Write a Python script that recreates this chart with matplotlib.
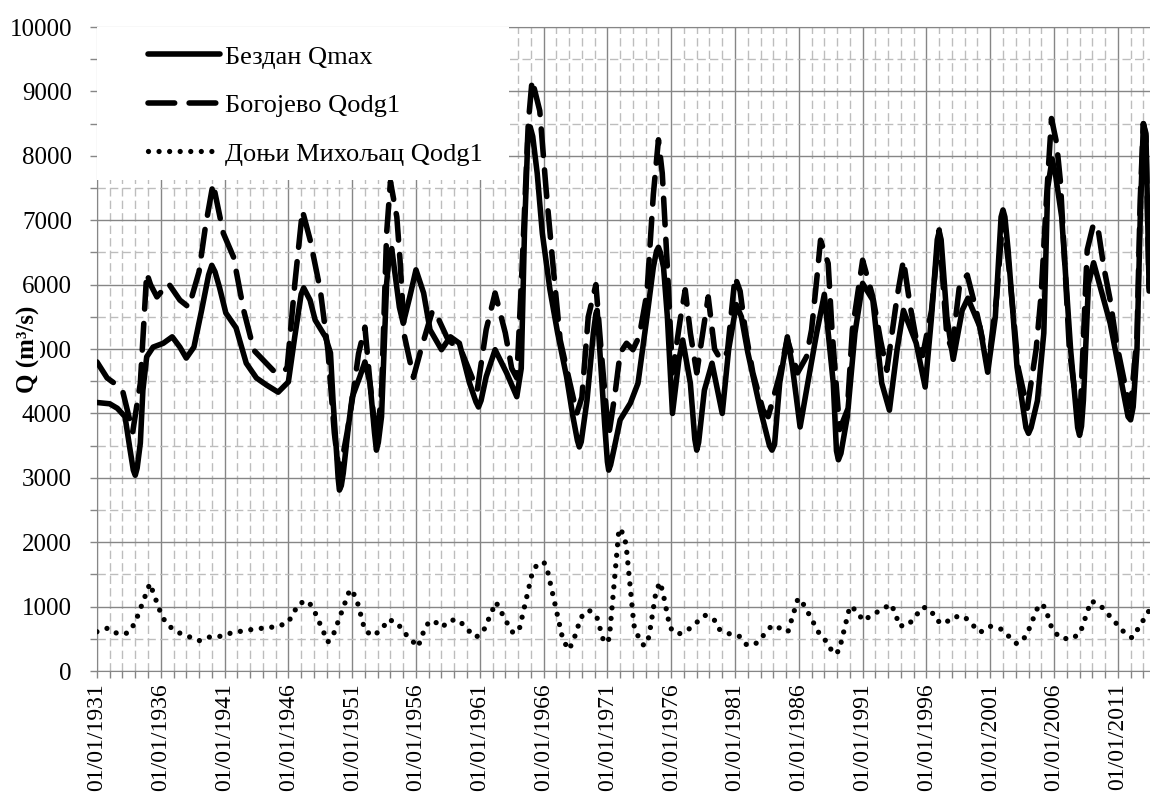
import numpy as np
import matplotlib.pyplot as plt
from matplotlib.ticker import MultipleLocator, FixedLocator, FuncFormatter
from matplotlib.patches import Rectangle

plt.rcParams.update({"font.family": "Liberation Serif", "font.size": 18})

# Бездан Qmax
god_bez = [1931.0, 1932.0, 1932.6, 1933.2, 1933.6, 1933.85, 1934.0, 1934.15, 1934.4, 1934.6,
           1934.9, 1935.4, 1936.2, 1936.9, 1937.5, 1938.0, 1938.6, 1939.2, 1939.75, 1940.0,
           1940.25, 1940.6, 1941.1, 1941.9, 1942.7, 1943.5, 1944.3, 1945.2, 1946.0, 1946.5,
           1947.0, 1947.2, 1947.7, 1948.1, 1948.9, 1949.3, 1949.5, 1949.8, 1949.9, 1950.0,
           1950.15, 1950.3, 1950.7, 1951.0, 1951.6, 1952.0, 1952.4, 1952.75, 1952.9, 1953.05,
           1953.3, 1953.7, 1953.9, 1954.1, 1954.7, 1955.0, 1955.5, 1956.0, 1956.6, 1957.1,
           1958.0, 1958.7, 1959.4, 1960.2, 1960.7, 1960.9, 1961.1, 1961.5, 1962.2, 1963.1,
           1963.9, 1964.25, 1964.5, 1964.75, 1964.95, 1965.15, 1965.5, 1965.9, 1966.5, 1967.1,
           1967.8, 1968.3, 1968.65, 1968.8, 1968.95, 1969.4, 1969.9, 1970.1, 1970.2, 1970.4,
           1970.8, 1971.0, 1971.1, 1971.25, 1971.5, 1972.0, 1972.8, 1973.4, 1974.1, 1974.6,
           1974.85, 1975.0, 1975.15, 1975.4, 1975.7, 1976.1, 1976.6, 1976.9, 1977.5, 1977.85,
           1978.0, 1978.15, 1978.6, 1979.2, 1980.0, 1980.5, 1981.1, 1981.5, 1982.0, 1983.0,
           1983.7, 1983.9, 1984.1, 1984.5, 1985.1, 1985.5, 1986.1, 1986.7, 1987.4, 1988.0,
           1988.7, 1988.95, 1989.1, 1989.3, 1989.8, 1990.4, 1991.0, 1991.8, 1992.5, 1993.1,
           1993.7, 1994.2, 1995.2, 1995.9, 1996.4, 1996.85, 1997.0, 1997.15, 1997.6, 1998.1,
           1998.8, 1999.25, 2000.2, 2000.8, 2001.4, 2001.85, 2002.0, 2002.15, 2002.4, 2003.1,
           2003.8, 2004.0, 2004.2, 2004.7, 2005.2, 2005.5, 2005.85, 2006.1, 2006.6, 2007.3,
           2007.85, 2008.0, 2008.15, 2008.3, 2008.7, 2009.1, 2010.4, 2011.2, 2011.8, 2012.0,
           2012.2, 2012.5, 2012.75, 2013.0, 2013.2, 2013.45]
q_bez = [4170, 4150, 4080, 3950, 3430, 3120, 3040, 3150, 3540, 4360,
         4880, 5030, 5090, 5190, 5030, 4860, 5030, 5600, 6150, 6300,
         6200, 5960, 5560, 5330, 4780, 4550, 4440, 4330, 4490, 5190,
         5850, 5950, 5760, 5450, 5190, 4940, 4200, 3320, 3000, 2810,
         2880, 3070, 3790, 4250, 4570, 4800, 4470, 3700, 3430, 3550,
         3950, 6020, 6450, 6560, 5650, 5400, 5800, 6230, 5870, 5300,
         4990, 5190, 5090, 4470, 4180, 4100, 4200, 4570, 4990, 4630,
         4260, 4700, 6800, 8200, 8450, 8300, 7730, 6800, 5920, 5250,
         4570, 3950, 3580, 3480, 3560, 4200, 5250, 5550, 5600, 4990,
         3790, 3250, 3120, 3200, 3430, 3900, 4160, 4470, 5500, 6270,
         6520, 6580, 6500, 6270, 5500, 4000, 4830, 5140, 4470, 3600,
         3430, 3550, 4360, 4780, 4000, 4990, 5690, 5500, 4950, 4050,
         3500, 3430, 3520, 4470, 5190, 4720, 3790, 4470, 5250, 5850,
         4470, 3420, 3280, 3380, 3950, 5250, 6020, 5760, 4470, 4050,
         4990, 5600, 5090, 4410, 5500, 6700, 6820, 6700, 5500, 4840,
         5600, 5790, 5340, 4640, 5500, 7050, 7160, 7050, 6540, 4720,
         3780, 3690, 3780, 4200, 5250, 7500, 7950, 7730, 7050, 4990,
         3780, 3660, 3800, 4200, 6020, 6340, 5400, 4570, 3950, 3900,
         4100, 4990, 7000, 8500, 8350, 5950]

# Богојево Qodg1
god_bog = [1931.0, 1931.8, 1932.5, 1933.0, 1933.8, 1934.4, 1934.9, 1935.2, 1935.7, 1936.6,
           1937.5, 1938.2, 1939.0, 1939.5, 1940.1, 1940.9, 1941.7, 1942.5, 1943.3, 1944.8,
           1945.3, 1945.9, 1946.5, 1947.1, 1947.7, 1948.5, 1949.1, 1949.6, 1950.0, 1950.6,
           1951.0, 1951.5, 1952.0, 1952.4, 1952.9, 1953.3, 1953.7, 1954.0, 1954.5, 1954.75,
           1955.1, 1955.8, 1956.4, 1957.3, 1957.8, 1958.5, 1959.6, 1960.8, 1961.5, 1962.2,
           1963.0, 1963.5, 1963.9, 1964.3, 1964.8, 1965.1, 1965.7, 1966.2, 1966.7, 1967.3,
           1968.6, 1969.0, 1969.5, 1970.1, 1970.5, 1971.1, 1971.6, 1972.0, 1972.5, 1973.0,
           1973.5, 1974.1, 1974.6, 1975.0, 1975.3, 1975.7, 1976.1, 1976.7, 1977.1, 1977.5,
           1978.0, 1978.9, 1979.4, 1979.9, 1980.4, 1981.0, 1981.4, 1981.8, 1982.4, 1983.2,
           1983.6, 1984.5, 1985.1, 1985.9, 1986.6, 1987.0, 1987.4, 1987.7, 1988.3, 1988.6,
           1989.2, 1989.8, 1990.2, 1991.0, 1991.8, 1992.4, 1992.9, 1993.7, 1994.2, 1994.7,
           1995.2, 1995.7, 1996.4, 1997.0, 1997.6, 1998.0, 1998.6, 1999.2, 1999.9, 2000.4,
           2001.0, 2001.5, 2002.0, 2002.5, 2003.2, 2003.9, 2004.6, 2005.0, 2005.4, 2005.8,
           2006.2, 2006.5, 2007.2, 2008.0, 2008.6, 2009.1, 2009.5, 2009.9, 2010.4, 2010.9,
           2011.7, 2012.0, 2012.5, 2012.75, 2013.0, 2013.2, 2013.45]
q_bog = [4800, 4550, 4450, 4360, 3710, 4470, 6180, 6000, 5810, 6020,
         5760, 5650, 6200, 6900, 7570, 6800, 6430, 5600, 4980, 4670,
         4620, 4700, 6000, 7150, 6700, 5920, 4980, 3700, 3050, 3700,
         4200, 4930, 5340, 4470, 3550, 4300, 6800, 7600, 7050, 6380,
         5200, 4560, 5000, 5600, 5450, 5150, 4950, 4360, 5300, 5870,
         5250, 4700, 4550, 6200, 8500, 9180, 8700, 7470, 6380, 5140,
         4000, 4250, 5500, 6000, 5000, 3650, 4310, 4940, 5090, 4990,
         5200, 5870, 7400, 8250, 7730, 6270, 4630, 5450, 5920, 5250,
         4630, 5810, 5000, 4830, 4950, 6120, 5900, 5300, 4630, 4050,
         3950, 4600, 5150, 4630, 4880, 5300, 6070, 6690, 6330, 5300,
         3750, 4050, 5300, 6380, 5810, 5140, 4670, 5810, 6380, 5700,
         5150, 4900, 5600, 6850, 5200, 5000, 6000, 6150, 5600, 5150,
         5000, 5800, 7100, 6200, 4700, 4080, 5000, 5870, 7310, 8580,
         8200, 7600, 5000, 3750, 6540, 6950, 6800, 6270, 5760, 5090,
         4310, 4100, 5200, 7300, 8500, 8300, 5900]

# Доњи Михољац Qodg1
god_dm = [1931.0, 1931.86, 1932.65, 1933.43, 1933.98, 1935.15, 1936.09, 1936.56, 1937.35, 1938.13,
          1938.99, 1939.86, 1940.72, 1941.58, 1943.3, 1945.11, 1945.97, 1946.83, 1947.54, 1948.0,
          1949.1, 1949.57, 1950.83, 1951.3, 1952.0, 1952.63, 1953.34, 1953.81, 1954.51, 1955.06,
          1956.16, 1956.78, 1957.33, 1958.04, 1958.66, 1959.37, 1960.0, 1960.7, 1961.25, 1962.27,
          1963.13, 1963.6, 1964.07, 1965.09, 1965.48, 1966.03, 1966.35, 1967.52, 1967.99, 1968.38,
          1968.93, 1969.56, 1970.18, 1970.66, 1971.05, 1971.2, 1971.91, 1972.22, 1972.46, 1973.08,
          1973.4, 1973.87, 1974.26, 1974.81, 1975.13, 1975.36, 1975.91, 1976.54, 1977.32, 1978.65,
          1979.36, 1979.75, 1980.53, 1981.31, 1981.94, 1982.72, 1983.9, 1984.53, 1985.15, 1985.94,
          1986.41, 1987.66, 1988.29, 1988.68, 1989.15, 1990.01, 1990.56, 1991.03, 1991.74, 1993.23,
          1993.62, 1993.85, 1994.56, 1995.73, 1996.36, 1996.75, 1997.38, 1998.08, 1998.95, 2000.2,
          2000.99, 2001.85, 2003.1, 2003.81, 2004.83, 2005.29, 2005.84, 2006.47, 2007.33, 2008.04,
          2008.9, 2009.6, 2011.41, 2012.11, 2012.58, 2013.44]
q_dm = [610, 667, 575, 590, 745, 1360, 850, 710, 600, 540,
        470, 530, 540, 595, 650, 690, 750, 1050, 1090, 950,
        450, 590, 1270, 1150, 630, 545, 650, 800, 755, 600,
        375, 710, 790, 680, 790, 790, 650, 525, 605, 1070,
        750, 595, 625, 1505, 1655, 1690, 1520, 480, 330, 495,
        835, 945, 835, 495, 435, 620, 2215, 2140, 1970, 710,
        545, 390, 530, 1240, 1380, 1210, 670, 570, 640, 865,
        800, 650, 580, 545, 400, 435, 710, 665, 610, 1130,
        1025, 560, 435, 265, 310, 1010, 930, 780, 870, 1040,
        870, 700, 710, 995, 945, 790, 730, 840, 850, 600,
        695, 650, 420, 540, 1040, 995, 655, 515, 495, 585,
        1090, 1025, 620, 515, 655, 935]

siva_tamna = "#868686"
siva_svetla = "#bdbdbd"

fig = plt.figure(figsize=(11.5, 7.96), dpi=100)
ax = fig.add_axes([0.0843, 0.157, 0.9157, 0.809])

l1, = ax.plot(god_bez, q_bez, color="k", lw=4.0, solid_joinstyle="round",
              solid_capstyle="round", label="Бездан Qmax", zorder=3)
l2, = ax.plot(god_bog, q_bog, color="k", lw=4.0, ls=(0, (4.8, 2.6)),
              dash_capstyle="round", dash_joinstyle="round", label="Богојево Qodg1", zorder=3)
l3, = ax.plot(god_dm, q_dm, color="k", lw=3.8, ls=(0, (0.001, 2.0)),
              dash_capstyle="round", label="Доњи Михољац Qodg1", zorder=3)

ax.set_xlim(1931, 2013.52)
ax.set_ylim(0, 10000)

ax.xaxis.set_major_locator(FixedLocator(np.arange(1931, 2014, 5)))
ax.xaxis.set_minor_locator(FixedLocator(np.arange(1931, 2014, 1)))
ax.xaxis.set_major_formatter(FuncFormatter(lambda v, p: f"01/01/{int(round(v))}"))
ax.yaxis.set_major_locator(MultipleLocator(1000))
ax.yaxis.set_minor_locator(MultipleLocator(500))

ax.tick_params(which="both", direction="out", length=5, width=1, color=siva_tamna)
ax.tick_params(axis="x", which="major", rotation=90, pad=4, labelsize=17)
ax.tick_params(axis="y", which="major", pad=13)

ax.grid(which="major", color=siva_tamna, lw=1.0, zorder=0)
ax.grid(which="minor", color=siva_svetla, lw=1.0, ls=(0, (6, 3)), zorder=0)
ax.set_axisbelow(True)

for s in ["left", "bottom", "top"]:
    ax.spines[s].set_color(siva_tamna)
ax.spines["right"].set_visible(False)

ax.set_ylabel("Q (m³/s)", fontweight="bold",
              bbox=dict(facecolor="white", edgecolor="none", pad=0))
ax.yaxis.set_label_coords(-0.054, 0.5)

# bela podloga legende preko mreze i linija
ax.add_patch(Rectangle((0, 1 - 0.2376), 0.391, 0.2376, transform=ax.transAxes,
                       facecolor="white", edgecolor="none", zorder=4))
leg = ax.legend(handles=[l1, l2, l3], loc="upper left", bbox_to_anchor=(0.0484, 0.972),
                frameon=False, borderpad=0, borderaxespad=0, fontsize=19,
                handlelength=2.73, handletextpad=0.19, labelspacing=0.95)
leg.set_zorder(5)

fig.savefig("out.png", dpi=100)
